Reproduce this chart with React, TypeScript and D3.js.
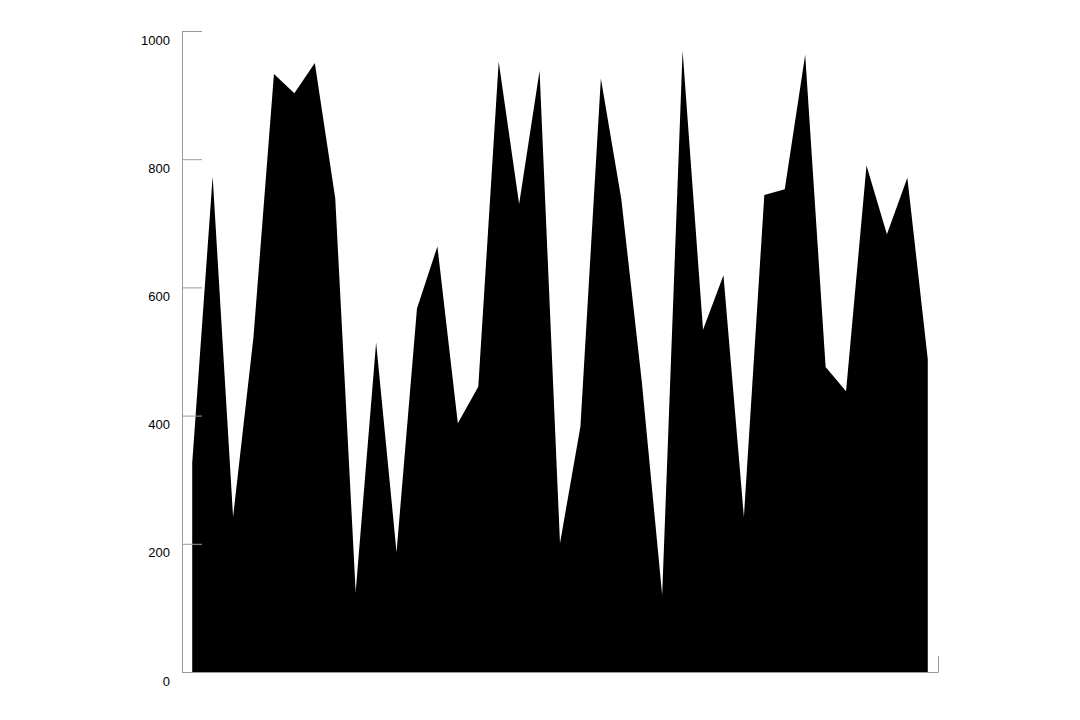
import React, { useRef, useEffect } from 'react';
import * as d3 from 'd3';

// values, left to right
const values: number[] = [
  326, 773, 242, 523, 933, 903, 950, 739, 125, 514,
  187, 567, 664, 388, 445, 952, 730, 938, 201, 383,
  926, 738, 454, 120, 969, 534, 619, 242, 744, 753,
  963, 476, 438, 790, 683, 771, 488,
];
const yTicks: number[] = [0, 200, 400, 600, 800, 1000];

const width = 1080;
const height = 720;
const margin = { top: 31, right: 142, bottom: 48, left: 182 };

const App = () => {
  const svgRef = useRef<SVGSVGElement | null>(null);

  useEffect(() => {
    const svg = d3.select(svgRef.current);
    svg.selectAll('*').remove();

    const idx = values.map((_, i) => i);
    const x = d3.scalePoint<number>().domain(idx).range([margin.left, width - margin.right]).padding(0.5);
    const y = d3.scaleLinear().domain([0, 1000]).range([height - margin.bottom, margin.top]);

    const area = d3.area<number>()
      .x((_, i) => x(i) as number)
      .y0(y(0))
      .y1((d) => y(d));

    svg.append('path')
      .datum(values)
      .attr('d', area)
      .attr('fill', '#000');

    // y axis, ticks drawn inward
    const yAxis = svg.append('g')
      .attr('transform', `translate(${margin.left},0)`)
      .call(d3.axisLeft(y).tickValues(yTicks).tickSizeInner(-20).tickSizeOuter(0).tickPadding(12).tickFormat(d3.format('d')));
    yAxis.selectAll('path, line').attr('stroke', '#9a9a9a');
    yAxis.selectAll('text')
      .attr('dy', '1em')
      .attr('fill', '#000')
      .style('font-family', 'Arial, "Liberation Sans", sans-serif')
      .style('font-size', '13px');

    // x axis: only the baseline with an upward end tick
    const xAxis = svg.append('g')
      .attr('transform', `translate(0,${height - margin.bottom})`)
      .call(d3.axisBottom(d3.scaleLinear().range([margin.left, width - margin.right])).tickValues([]).tickSizeOuter(-16));
    xAxis.selectAll('path').attr('stroke', '#9a9a9a');
  }, []);

  return (
    <div style={{ position: 'absolute', left: 0, top: 0 }}>
      <svg ref={svgRef} width={width} height={height} style={{ display: 'block', background: '#fff' }}></svg>
    </div>
  );
};

export default App;
